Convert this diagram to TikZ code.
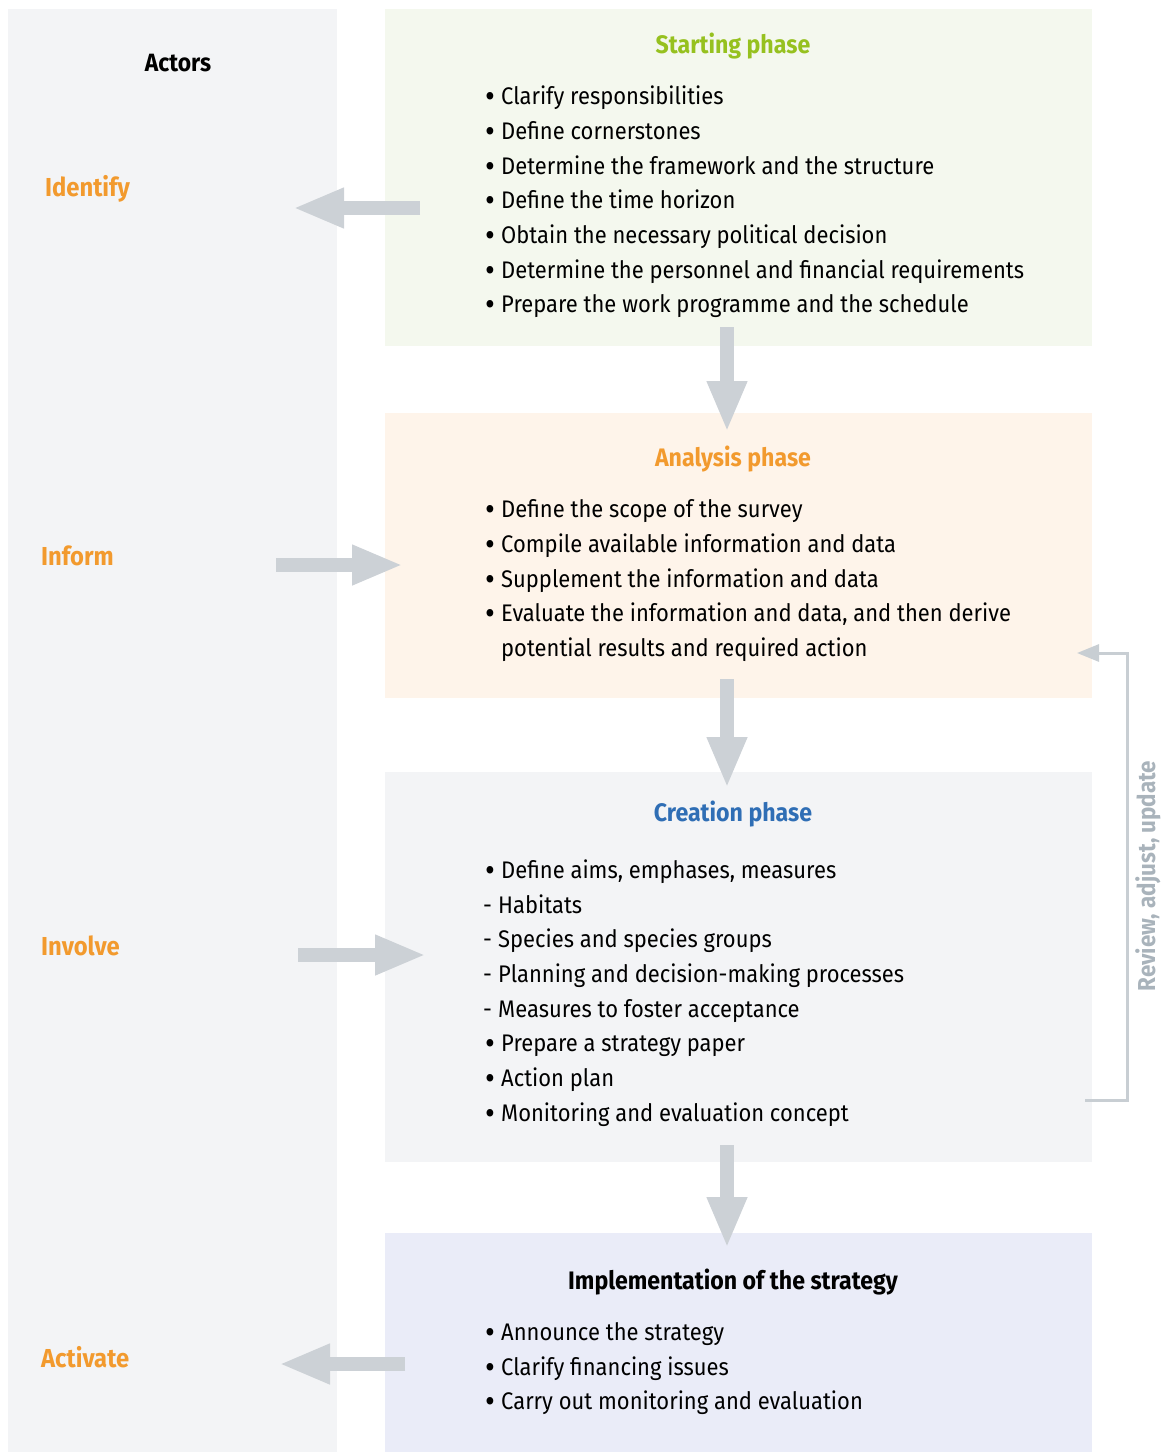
\documentclass[tikz,border=0pt]{standalone}
\usepackage{fontspec}
\setmainfont{Fira Sans}[FakeStretch=0.915]
\usetikzlibrary{arrows.meta}
\definecolor{panelgray}{HTML}{F3F4F6}
\definecolor{startbg}{HTML}{F4F8EE}
\definecolor{analysisbg}{HTML}{FEF4EA}
\definecolor{creationbg}{HTML}{F3F4F6}
\definecolor{implbg}{HTML}{EAECF8}
\definecolor{arrowgray}{HTML}{CCD1D6}
\definecolor{actorange}{HTML}{F29A2E}
\definecolor{titlegreen}{HTML}{96C11F}
\definecolor{titleblue}{HTML}{2F6EB5}
\definecolor{loopgray}{HTML}{C8CED3}
\definecolor{looptext}{HTML}{A9B3BB}
\newcommand{\bul}{\makebox[16pt][l]{\raisebox{-3pt}{\fontsize{33}{33}\selectfont •}}}
\newcommand{\dsh}{\makebox[15pt][l]{-}}
\tikzset{
  panel/.style={draw=none, inner sep=0pt, anchor=north west},
  item/.style={anchor=base west, inner sep=0pt, font=\fontsize{24}{28}\selectfont, text=black},
  title/.style={anchor=base, inner sep=0pt, font=\fontsize{25.3}{30}\selectfont\bfseries},
  actor/.style={anchor=base west, inner sep=0pt, font=\fontsize{26}{30}\selectfont\bfseries, text=actorange},
  bigarrow/.style={draw=arrowgray, line width=14pt, -{Triangle[length=51pt,width=37pt]}},
  looparrow/.style={draw=loopgray, line width=3pt, -{Triangle[length=22pt,width=17pt]}}
}
\begin{document}
\begin{tikzpicture}[x=1pt,y=-1pt]
\useasboundingbox (0,0) rectangle (1161,1452);
% panels
\node[panel, fill=panelgray, minimum width=329pt, minimum height=1443pt] (actors) at (8,9) {};
\node[panel, fill=startbg, minimum width=707pt, minimum height=337pt] (start) at (385,9) {};
\node[panel, fill=analysisbg, minimum width=707pt, minimum height=285pt] (analysis) at (385,413) {};
\node[panel, fill=creationbg, minimum width=707pt, minimum height=390pt] (creation) at (385,772) {};
\node[panel, fill=implbg, minimum width=707pt, minimum height=219pt] (impl) at (385,1233) {};

% actors column
\node[title, text=black, font=\fontsize{25}{30}\selectfont\bfseries] (actorstitle) at (178,71) {Actors};
\node[actor] (identify) at (45,196) {Identify};
\node[actor] (inform) at (41,565) {Inform};
\node[actor] (involve) at (41,955) {Involve};
\node[actor] (activate) at (41,1367) {Activate};

% titles
\node[title, text=titlegreen] (starttitle) at (733,53) {Starting phase};
\node[title, text=actorange] (analysistitle) at (733,466) {Analysis phase};
\node[title, text=titleblue] (creationtitle) at (733,821) {Creation phase};
\node[title, text=black] (impltitle) at (733,1289) {Implementation of the strategy};

% starting phase items
\node[item] (s1) at (485,104) {\bul Clarify responsibilities};
\node[item] (s2) at (485,139) {\bul Define cornerstones};
\node[item] (s3) at (485,174) {\bul Determine the framework and the structure};
\node[item] (s4) at (485,208) {\bul Define the time horizon};
\node[item] (s5) at (485,243) {\bul Obtain the necessary political decision};
\node[item] (s6) at (485,278) {\bul Determine the personnel and financial requirements};
\node[item] (s7) at (485,312) {\bul Prepare the work programme and the schedule};

% analysis phase items
\node[item] (a1) at (485,517) {\bul Define the scope of the survey};
\node[item] (a2) at (485,552) {\bul Compile available information and data};
\node[item] (a3) at (485,587) {\bul Supplement the information and data};
\node[item] (a4) at (485,621) {\bul Evaluate the information and data, and then derive};
\node[item] (a5) at (501,656) {potential results and required action};

% creation phase items
\node[item] (c1) at (485,878) {\bul Define aims, emphases, measures};
\node[item] (c2) at (483,913) {\dsh Habitats};
\node[item] (c3) at (483,947) {\dsh Species and species groups};
\node[item] (c4) at (483,982) {\dsh Planning and decision-making processes};
\node[item] (c5) at (483,1017) {\dsh Measures to foster acceptance};
\node[item] (c6) at (485,1051) {\bul Prepare a strategy paper};
\node[item] (c7) at (485,1086) {\bul Action plan};
\node[item] (c8) at (485,1121) {\bul Monitoring and evaluation concept};

% implementation items
\node[item] (i1) at (485,1340) {\bul Announce the strategy};
\node[item] (i2) at (485,1375) {\bul Clarify financing issues};
\node[item] (i3) at (485,1409) {\bul Carry out monitoring and evaluation};

% arrow anchors
\coordinate (idS) at (420,208);   \coordinate (idE) at (293,208);
\coordinate (d1S) at (727,327);   \coordinate (d1E) at (727,432);
\coordinate (inS) at (276,565);   \coordinate (inE) at (403,565);
\coordinate (d2S) at (727,679);   \coordinate (d2E) at (727,788);
\coordinate (ivS) at (298,955);   \coordinate (ivE) at (426,955);
\coordinate (d3S) at (727,1145);  \coordinate (d3E) at (727,1248);
\coordinate (acS) at (405,1364);  \coordinate (acE) at (279,1364);

\draw[bigarrow] (idS) -- (idE);
\draw[bigarrow] (d1S) -- (d1E);
\draw[bigarrow] (inS) -- (inE);
\draw[bigarrow] (d2S) -- (d2E);
\draw[bigarrow] (ivS) -- (ivE);
\draw[bigarrow] (d3S) -- (d3E);
\draw[bigarrow] (acS) -- (acE);

% feedback loop
\coordinate (loopS) at (1085,1100);
\coordinate (loopE) at (1077,653);
\draw[looparrow] (loopS) -- (1127,1100) -- (1127,653) -- (loopE);
\node[anchor=base, rotate=90, inner sep=0pt, text=looptext, font=\fontsize{24.5}{30}\selectfont\bfseries] (looplabel) at (1155,876) {Review, adjust, update};
\end{tikzpicture}
\end{document}
